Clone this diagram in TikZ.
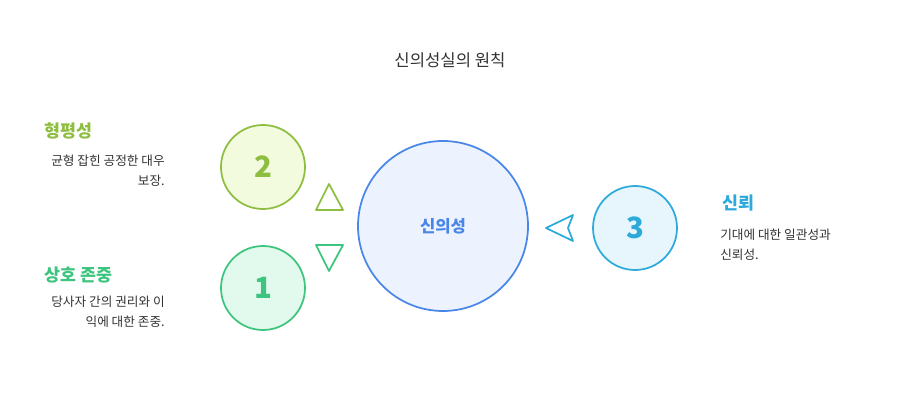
\documentclass[tikz,border=0pt]{standalone}
\usepackage{fontspec}
\setmainfont{Noto Sans CJK KR}
\newfontfamily\kr{Noto Sans CJK KR}
\definecolor{cblue}{HTML}{4A86E8}
\definecolor{cbluef}{HTML}{ECF2FE}
\definecolor{cyg}{HTML}{8DBE3F}
\definecolor{cygf}{HTML}{F2FBDD}
\definecolor{cgr}{HTML}{3DC47E}
\definecolor{cgrf}{HTML}{E2FAEE}
\definecolor{ccy}{HTML}{2BAADB}
\definecolor{ccyf}{HTML}{E6F6FC}
\definecolor{txt}{HTML}{333333}
\begin{document}
\begin{tikzpicture}[x=0.75pt,y=-0.75pt,
  circ/.style={circle,line width=1.3pt,inner sep=0pt},
  num/.style={font=\fontsize{22}{22}\selectfont\bfseries},
  head/.style={font=\fontsize{13}{15}\selectfont\bfseries},
  desc/.style={font=\fontsize{9.5}{14.5}\selectfont,text=txt,inner sep=0pt}]
\useasboundingbox[fill=white] (0,0) rectangle (900,420);
\node[font=\fontsize{12.5}{14}\selectfont,text=txt] (title) at (450,60) {신의성실의 원칙};
\node[circ,draw=cblue,fill=cbluef,minimum size=170*0.75pt,text=cblue,font=\fontsize{12.5}{14}\selectfont\bfseries] (c) at (443,226) {신의성};
\node[circ,draw=cyg,fill=cygf,minimum size=84*0.75pt,text=cyg,num] (n2) at (263,167) {2};
\node[circ,draw=cgr,fill=cgrf,minimum size=84*0.75pt,text=cgr,num] (n1) at (263,288) {1};
\node[circ,draw=ccy,fill=ccyf,minimum size=84*0.75pt,text=ccy,num] (n3) at (635,228) {3};
\draw[cyg,line width=1.3pt,line join=round] (316,210)--(343,210)--(329,184)--cycle;
\draw[cgr,line width=1.3pt,line join=round] (316,245)--(343,245)--(329,271)--cycle;
\draw[ccy,line width=1.3pt,line join=round] (546,228)--(573,215)--(568,228)--(573,241)--cycle;
\node[head,text=cyg,anchor=west] (h2) at (40,131) {형평성};
\node[desc,anchor=north east,align=right] (d2) at (165,155) {균형 잡힌 공정한 대우\\보장.};
\node[head,text=cgr,anchor=west] (h1) at (40,275) {상호 존중};
\node[desc,anchor=north east,align=right] (d1) at (165,296) {당사자 간의 권리와 이\\익에 대한 존중.};
\node[head,text=ccy,anchor=west] (h3) at (718,203) {신뢰};
\node[desc,anchor=north west,align=left] (d3) at (720,229) {기대에 대한 일관성과\\신뢰성.};
\end{tikzpicture}
\end{document}
